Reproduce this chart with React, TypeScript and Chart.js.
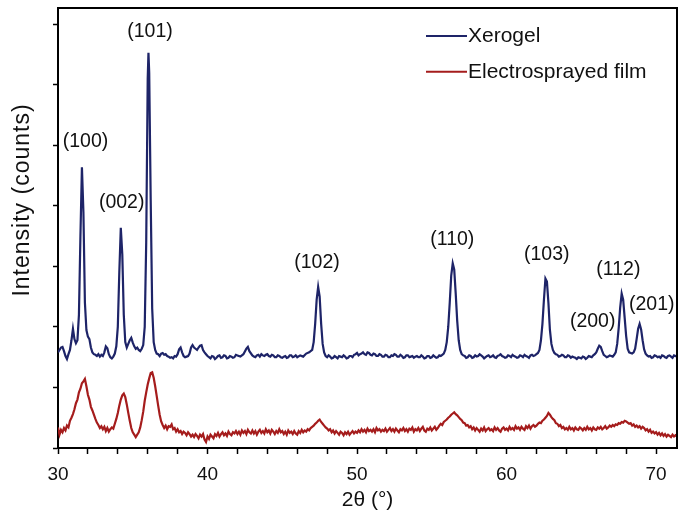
import React, { useEffect, useRef } from "react";
import { Chart, registerables } from "chart.js";

Chart.register(...registerables);

// ---------- data ----------
const seriesNames = ["Xerogel", "Electrosprayed film"];

// Xerogel pattern: [2θ (°), intensity (a.u.)]
const xerogelPattern: [number, number][] = [
  [30.0, 1.58], [30.1, 1.62], [30.2, 1.66], [30.3, 1.67], [30.4, 1.60], [30.5, 1.52], [30.6, 1.47], [30.7, 1.55],
  [30.8, 1.62], [30.9, 1.78], [31.0, 1.97], [31.1, 1.80], [31.2, 1.73], [31.3, 1.78], [31.4, 2.2], [31.5, 3.5],
  [31.6, 4.64], [31.7, 3.9], [31.8, 2.4], [31.9, 1.95], [32.0, 1.84], [32.1, 1.80], [32.2, 1.66], [32.3, 1.58],
  [32.4, 1.55], [32.5, 1.54], [32.6, 1.52], [32.7, 1.55], [32.8, 1.51], [32.9, 1.54], [33.0, 1.52], [33.1, 1.58],
  [33.2, 1.68], [33.3, 1.65], [33.4, 1.55], [33.5, 1.50], [33.6, 1.48], [33.7, 1.51], [33.8, 1.56], [33.9, 1.68],
  [34.0, 2.0], [34.1, 2.9], [34.2, 3.64], [34.3, 3.2], [34.4, 2.2], [34.5, 1.75], [34.6, 1.66], [34.7, 1.72],
  [34.8, 1.78], [34.9, 1.82], [35.0, 1.74], [35.1, 1.68], [35.2, 1.64], [35.3, 1.66], [35.4, 1.62], [35.5, 1.60],
  [35.6, 1.64], [35.7, 1.70], [35.8, 2.0], [35.9, 3.4], [36.0, 6.1], [36.05, 6.53], [36.1, 6.2], [36.2, 4.1],
  [36.3, 2.3], [36.4, 1.75], [36.5, 1.62], [36.6, 1.56], [36.7, 1.55], [36.8, 1.52], [36.9, 1.56], [37.0, 1.57],
  [37.1, 1.54], [37.2, 1.55], [37.3, 1.52], [37.4, 1.51], [37.5, 1.49], [37.6, 1.50], [37.7, 1.48], [37.8, 1.52],
  [37.9, 1.51], [38.0, 1.55], [38.1, 1.63], [38.2, 1.66], [38.3, 1.58], [38.4, 1.52], [38.5, 1.50], [38.6, 1.51],
  [38.7, 1.52], [38.8, 1.56], [38.9, 1.66], [39.0, 1.70], [39.1, 1.66], [39.2, 1.64], [39.3, 1.62], [39.4, 1.66],
  [39.5, 1.69], [39.6, 1.70], [39.7, 1.62], [39.8, 1.58], [39.9, 1.55], [40.0, 1.52], [40.1, 1.50], [40.2, 1.48],
  [40.3, 1.52], [40.4, 1.51], [40.5, 1.47], [40.6, 1.49], [40.7, 1.52], [40.8, 1.53], [40.9, 1.49], [41.0, 1.50],
  [41.1, 1.53], [41.2, 1.52], [41.3, 1.48], [41.4, 1.49], [41.5, 1.52], [41.6, 1.51], [41.7, 1.49], [41.8, 1.50],
  [41.9, 1.54], [42.0, 1.53], [42.2, 1.51], [42.4, 1.55], [42.6, 1.64], [42.7, 1.67], [42.8, 1.60], [43.0, 1.53],
  [43.1, 1.51], [43.2, 1.50], [43.3, 1.53], [43.4, 1.54], [43.5, 1.51], [43.6, 1.55], [43.7, 1.53], [43.8, 1.52],
  [43.9, 1.54], [44.0, 1.55], [44.1, 1.52], [44.2, 1.51], [44.3, 1.54], [44.4, 1.53], [44.5, 1.50], [44.6, 1.50],
  [44.7, 1.53], [44.8, 1.52], [44.9, 1.50], [45.0, 1.49], [45.1, 1.51], [45.2, 1.52], [45.3, 1.49], [45.4, 1.50],
  [45.5, 1.53], [45.6, 1.53], [45.7, 1.50], [45.8, 1.51], [45.9, 1.53], [46.0, 1.50], [46.2, 1.53], [46.4, 1.51],
  [46.6, 1.56], [46.8, 1.58], [47.0, 1.62], [47.1, 1.75], [47.2, 2.05], [47.3, 2.45], [47.4, 2.66], [47.5, 2.5],
  [47.6, 2.05], [47.7, 1.72], [47.8, 1.58], [47.9, 1.52], [48.0, 1.50], [48.1, 1.53], [48.2, 1.51], [48.3, 1.48],
  [48.4, 1.49], [48.5, 1.52], [48.6, 1.50], [48.7, 1.48], [48.8, 1.52], [48.9, 1.51], [49.0, 1.50], [49.1, 1.53],
  [49.2, 1.51], [49.3, 1.48], [49.4, 1.49], [49.5, 1.52], [49.6, 1.52], [49.7, 1.50], [49.8, 1.54], [49.9, 1.55],
  [50.0, 1.57], [50.1, 1.53], [50.2, 1.55], [50.3, 1.56], [50.4, 1.58], [50.5, 1.55], [50.6, 1.54], [50.7, 1.58],
  [50.8, 1.57], [50.9, 1.54], [51.0, 1.53], [51.1, 1.56], [51.2, 1.55], [51.3, 1.52], [51.4, 1.52], [51.5, 1.55],
  [51.6, 1.54], [51.7, 1.51], [51.8, 1.51], [51.9, 1.54], [52.0, 1.53], [52.1, 1.50], [52.2, 1.50], [52.3, 1.53],
  [52.4, 1.52], [52.5, 1.55], [52.6, 1.54], [52.7, 1.51], [52.8, 1.51], [52.9, 1.54], [53.0, 1.52], [53.1, 1.49],
  [53.2, 1.50], [53.3, 1.53], [53.4, 1.53], [53.5, 1.50], [53.6, 1.51], [53.7, 1.52], [53.8, 1.49], [53.9, 1.51],
  [54.0, 1.52], [54.1, 1.50], [54.2, 1.50], [54.3, 1.53], [54.4, 1.51], [54.5, 1.48], [54.6, 1.49], [54.7, 1.52],
  [54.8, 1.52], [54.9, 1.49], [55.0, 1.50], [55.1, 1.53], [55.2, 1.51], [55.3, 1.49], [55.4, 1.50], [55.5, 1.53],
  [55.6, 1.52], [55.7, 1.54], [55.8, 1.56], [55.9, 1.62], [56.0, 1.75], [56.1, 2.0], [56.2, 2.4], [56.3, 2.85],
  [56.4, 3.05], [56.5, 2.95], [56.6, 2.55], [56.7, 2.1], [56.8, 1.78], [56.9, 1.62], [57.0, 1.55], [57.1, 1.53],
  [57.2, 1.52], [57.3, 1.49], [57.4, 1.50], [57.5, 1.53], [57.6, 1.52], [57.7, 1.49], [57.8, 1.50], [57.9, 1.53],
  [58.0, 1.51], [58.1, 1.52], [58.2, 1.55], [58.3, 1.53], [58.4, 1.51], [58.5, 1.48], [58.6, 1.50], [58.7, 1.52],
  [58.8, 1.53], [58.9, 1.50], [59.0, 1.51], [59.1, 1.53], [59.2, 1.50], [59.3, 1.49], [59.4, 1.52], [59.5, 1.53],
  [59.6, 1.55], [59.7, 1.52], [59.8, 1.51], [59.9, 1.49], [60.0, 1.50], [60.1, 1.53], [60.2, 1.52], [60.3, 1.50],
  [60.4, 1.54], [60.5, 1.52], [60.6, 1.51], [60.7, 1.49], [60.8, 1.50], [60.9, 1.53], [61.0, 1.52], [61.1, 1.50],
  [61.2, 1.54], [61.3, 1.52], [61.4, 1.51], [61.5, 1.49], [61.6, 1.53], [61.7, 1.54], [61.8, 1.52], [61.9, 1.53],
  [62.0, 1.55], [62.1, 1.57], [62.2, 1.62], [62.3, 1.78], [62.4, 2.05], [62.5, 2.45], [62.6, 2.8], [62.7, 2.75],
  [62.8, 2.4], [62.9, 1.95], [63.0, 1.72], [63.1, 1.62], [63.2, 1.57], [63.3, 1.55], [63.4, 1.54], [63.5, 1.51],
  [63.6, 1.52], [63.7, 1.54], [63.8, 1.53], [63.9, 1.50], [64.0, 1.50], [64.1, 1.53], [64.2, 1.52], [64.3, 1.49],
  [64.4, 1.51], [64.5, 1.50], [64.6, 1.49], [64.7, 1.47], [64.8, 1.50], [64.9, 1.49], [65.0, 1.48], [65.1, 1.51],
  [65.2, 1.50], [65.3, 1.47], [65.4, 1.49], [65.5, 1.52], [65.6, 1.51], [65.7, 1.50], [65.8, 1.53], [65.9, 1.55],
  [66.0, 1.58], [66.1, 1.64], [66.2, 1.69], [66.3, 1.67], [66.4, 1.60], [66.5, 1.54], [66.6, 1.52], [66.7, 1.50],
  [66.8, 1.51], [66.9, 1.53], [67.0, 1.52], [67.1, 1.51], [67.2, 1.54], [67.3, 1.58], [67.4, 1.72], [67.5, 1.98],
  [67.6, 2.32], [67.7, 2.55], [67.8, 2.45], [67.9, 2.15], [68.0, 1.85], [68.1, 1.64], [68.2, 1.58], [68.3, 1.57],
  [68.4, 1.56], [68.5, 1.58], [68.6, 1.64], [68.7, 1.80], [68.8, 1.97], [68.9, 2.05], [69.0, 1.96], [69.1, 1.78],
  [69.2, 1.63], [69.3, 1.56], [69.4, 1.53], [69.5, 1.51], [69.6, 1.52], [69.7, 1.49], [69.8, 1.50], [69.9, 1.53],
  [70.0, 1.52], [70.1, 1.50], [70.2, 1.51], [70.3, 1.49], [70.4, 1.53], [70.5, 1.52], [70.6, 1.50], [70.7, 1.49],
  [70.8, 1.52], [70.9, 1.53], [71.0, 1.51], [71.1, 1.49], [71.2, 1.53], [71.3, 1.52], [71.4, 1.51],
];

// Electrosprayed film pattern: [2θ (°), intensity (a.u.)]
const filmPattern: [number, number][] = [
  [30.0, 0.34], [30.1, 0.22], [30.2, 0.30], [30.3, 0.26], [30.4, 0.33], [30.5, 0.29], [30.6, 0.37], [30.7, 0.34],
  [30.8, 0.45], [30.9, 0.50], [31.0, 0.56], [31.1, 0.64], [31.2, 0.74], [31.3, 0.80], [31.4, 0.92], [31.5, 0.98],
  [31.6, 1.07], [31.7, 1.10], [31.8, 1.14], [31.9, 1.02], [32.0, 0.88], [32.1, 0.80], [32.2, 0.68], [32.3, 0.62],
  [32.4, 0.55], [32.5, 0.48], [32.6, 0.42], [32.7, 0.38], [32.8, 0.33], [32.9, 0.36], [33.0, 0.31], [33.1, 0.35],
  [33.2, 0.28], [33.3, 0.33], [33.4, 0.27], [33.5, 0.31], [33.6, 0.34], [33.7, 0.32], [33.8, 0.40], [33.9, 0.48],
  [34.0, 0.58], [34.1, 0.70], [34.2, 0.80], [34.3, 0.87], [34.4, 0.90], [34.5, 0.84], [34.6, 0.72], [34.7, 0.58],
  [34.8, 0.45], [34.9, 0.33], [35.0, 0.26], [35.1, 0.22], [35.2, 0.18], [35.3, 0.22], [35.4, 0.26], [35.5, 0.34],
  [35.6, 0.46], [35.7, 0.60], [35.8, 0.78], [35.9, 0.92], [36.0, 1.05], [36.1, 1.15], [36.2, 1.24], [36.3, 1.25],
  [36.4, 1.16], [36.5, 1.02], [36.6, 0.86], [36.7, 0.70], [36.8, 0.55], [36.9, 0.44],
  [37.0, 0.38], [37.1, 0.33], [37.2, 0.37], [37.3, 0.31], [37.4, 0.36], [37.5, 0.35], [37.6, 0.39], [37.7, 0.31], [37.8, 0.33], [37.9, 0.27],
  [38.0, 0.31], [38.1, 0.26], [38.2, 0.28], [38.3, 0.23], [38.4, 0.27], [38.5, 0.25], [38.6, 0.21], [38.7, 0.26], [38.8, 0.23], [38.9, 0.19],
  [39.0, 0.22], [39.1, 0.18], [39.2, 0.23], [39.3, 0.20], [39.4, 0.16], [39.5, 0.22], [39.6, 0.19], [39.7, 0.23], [39.8, 0.14], [39.9, 0.10],
  [40.0, 0.19], [40.1, 0.15], [40.2, 0.22], [40.3, 0.19], [40.4, 0.16], [40.5, 0.23], [40.6, 0.20], [40.7, 0.25], [40.8, 0.19], [40.9, 0.23],
  [41.0, 0.26], [41.1, 0.21], [41.2, 0.24], [41.3, 0.20], [41.4, 0.27], [41.5, 0.23], [41.6, 0.21], [41.7, 0.26], [41.8, 0.24], [41.9, 0.28],
  [42.0, 0.23], [42.1, 0.27], [42.2, 0.22], [42.3, 0.29], [42.4, 0.25], [42.5, 0.28], [42.6, 0.23], [42.7, 0.30], [42.8, 0.26], [42.9, 0.24],
  [43.0, 0.29], [43.1, 0.24], [43.2, 0.28], [43.3, 0.22], [43.4, 0.27], [43.5, 0.30], [43.6, 0.25], [43.7, 0.28], [43.8, 0.24], [43.9, 0.31],
  [44.0, 0.26], [44.1, 0.29], [44.2, 0.24], [44.3, 0.30], [44.4, 0.27], [44.5, 0.23], [44.6, 0.28], [44.7, 0.25], [44.8, 0.31], [44.9, 0.26],
  [45.0, 0.28], [45.1, 0.23], [45.2, 0.27], [45.3, 0.22], [45.4, 0.29], [45.5, 0.25], [45.6, 0.27], [45.7, 0.23], [45.8, 0.28], [45.9, 0.24],
  [46.0, 0.22], [46.1, 0.28], [46.2, 0.25], [46.3, 0.30], [46.4, 0.26], [46.5, 0.29], [46.6, 0.27], [46.7, 0.31], [46.8, 0.29], [46.9, 0.33],
  [47.0, 0.35], [47.1, 0.37], [47.2, 0.40], [47.3, 0.42], [47.4, 0.45], [47.5, 0.47], [47.6, 0.43], [47.7, 0.40], [47.8, 0.37], [47.9, 0.34],
  [48.0, 0.32], [48.1, 0.29], [48.2, 0.31], [48.3, 0.26], [48.4, 0.29], [48.5, 0.24], [48.6, 0.28], [48.7, 0.25], [48.8, 0.22], [48.9, 0.27],
  [49.0, 0.25], [49.1, 0.21], [49.2, 0.26], [49.3, 0.23], [49.4, 0.27], [49.5, 0.22], [49.6, 0.25], [49.7, 0.28], [49.8, 0.24], [49.9, 0.27],
  [50.0, 0.25], [50.1, 0.29], [50.2, 0.26], [50.3, 0.31], [50.4, 0.27], [50.5, 0.30], [50.6, 0.26], [50.7, 0.32], [50.8, 0.28], [50.9, 0.30],
  [51.0, 0.27], [51.1, 0.31], [51.2, 0.26], [51.3, 0.33], [51.4, 0.29], [51.5, 0.31], [51.6, 0.27], [51.7, 0.30], [51.8, 0.28], [51.9, 0.32],
  [52.0, 0.27], [52.1, 0.30], [52.2, 0.33], [52.3, 0.28], [52.4, 0.31], [52.5, 0.27], [52.6, 0.32], [52.7, 0.29], [52.8, 0.26], [52.9, 0.31],
  [53.0, 0.29], [53.1, 0.33], [53.2, 0.28], [53.3, 0.31], [53.4, 0.27], [53.5, 0.32], [53.6, 0.30], [53.7, 0.34], [53.8, 0.27], [53.9, 0.31],
  [54.0, 0.29], [54.1, 0.33], [54.2, 0.28], [54.3, 0.32], [54.4, 0.35], [54.5, 0.29], [54.6, 0.27], [54.7, 0.32], [54.8, 0.30], [54.9, 0.34],
  [55.0, 0.29], [55.1, 0.32], [55.2, 0.35], [55.3, 0.30], [55.4, 0.33], [55.5, 0.37], [55.6, 0.40], [55.7, 0.38], [55.8, 0.43], [55.9, 0.45],
  [56.0, 0.47], [56.1, 0.50], [56.2, 0.52], [56.3, 0.55], [56.4, 0.57], [56.5, 0.59], [56.6, 0.56], [56.7, 0.54], [56.8, 0.51], [56.9, 0.48],
  [57.0, 0.46], [57.1, 0.42], [57.2, 0.41], [57.3, 0.37], [57.4, 0.38], [57.5, 0.34], [57.6, 0.36], [57.7, 0.31], [57.8, 0.34], [57.9, 0.29],
  [58.0, 0.33], [58.1, 0.30], [58.2, 0.27], [58.3, 0.32], [58.4, 0.29], [58.5, 0.34], [58.6, 0.28], [58.7, 0.31], [58.8, 0.33], [58.9, 0.29],
  [59.0, 0.31], [59.1, 0.28], [59.2, 0.34], [59.3, 0.30], [59.4, 0.33], [59.5, 0.29], [59.6, 0.27], [59.7, 0.32], [59.8, 0.34], [59.9, 0.30],
  [60.0, 0.32], [60.1, 0.29], [60.2, 0.35], [60.3, 0.31], [60.4, 0.33], [60.5, 0.30], [60.6, 0.36], [60.7, 0.32], [60.8, 0.34], [60.9, 0.30],
  [61.0, 0.35], [61.1, 0.32], [61.2, 0.30], [61.3, 0.36], [61.4, 0.33], [61.5, 0.37], [61.6, 0.32], [61.7, 0.36], [61.8, 0.38], [61.9, 0.35],
  [62.0, 0.37], [62.1, 0.40], [62.2, 0.42], [62.3, 0.41], [62.4, 0.45], [62.5, 0.47], [62.6, 0.50], [62.7, 0.53], [62.8, 0.58], [62.9, 0.55],
  [63.0, 0.51], [63.1, 0.48], [63.2, 0.46], [63.3, 0.41], [63.4, 0.40], [63.5, 0.36], [63.6, 0.38], [63.7, 0.33], [63.8, 0.35], [63.9, 0.31],
  [64.0, 0.33], [64.1, 0.30], [64.2, 0.35], [64.3, 0.31], [64.4, 0.33], [64.5, 0.29], [64.6, 0.34], [64.7, 0.31], [64.8, 0.30], [64.9, 0.34],
  [65.0, 0.32], [65.1, 0.29], [65.2, 0.33], [65.3, 0.30], [65.4, 0.35], [65.5, 0.31], [65.6, 0.33], [65.7, 0.29], [65.8, 0.34], [65.9, 0.31],
  [66.0, 0.30], [66.1, 0.34], [66.2, 0.32], [66.3, 0.35], [66.4, 0.31], [66.5, 0.33], [66.6, 0.36], [66.7, 0.32], [66.8, 0.34], [66.9, 0.37],
  [67.0, 0.35], [67.1, 0.38], [67.2, 0.36], [67.3, 0.39], [67.4, 0.38], [67.5, 0.41], [67.6, 0.40], [67.7, 0.43], [67.8, 0.42], [67.9, 0.45],
  [68.0, 0.44], [68.1, 0.42], [68.2, 0.40], [68.3, 0.41], [68.4, 0.37], [68.5, 0.39], [68.6, 0.35], [68.7, 0.37], [68.8, 0.34], [68.9, 0.36],
  [69.0, 0.32], [69.1, 0.35], [69.2, 0.33], [69.3, 0.29], [69.4, 0.31], [69.5, 0.27], [69.6, 0.30], [69.7, 0.25], [69.8, 0.27], [69.9, 0.24],
  [70.0, 0.26], [70.1, 0.22], [70.2, 0.25], [70.3, 0.21], [70.4, 0.24], [70.5, 0.20], [70.6, 0.23], [70.7, 0.19], [70.8, 0.22], [70.9, 0.20],
  [71.0, 0.18], [71.1, 0.22], [71.2, 0.19], [71.3, 0.21], [71.4, 0.19],
];

// Miller-index annotations: label, 2θ of label centre, intensity of label centre
const peakNames = ["(100)", "(002)", "(101)", "(102)", "(110)", "(103)", "(200)", "(112)", "(201)"];
const peakLabelAngles = [31.84, 34.26, 36.15, 47.32, 56.37, 62.69, 65.76, 67.48, 69.71];
const peakLabelLevels = [5.06, 4.06, 6.88, 3.07, 3.45, 3.2, 2.09, 2.95, 2.37];

const xMin = 30;
const xMax = 71.4;
const yMax = 7.27;
const xTickStep = 2;
const xLabelEvery = 10;

// ---------- styles ----------
const FONT = '"Liberation Sans", Arial, Helvetica, sans-serif';
const TEXT = "#111111";
const colors = ["#1e2468", "#a51c1c"];

const framePlugin = {
  id: "frame",
  afterDraw(chart: any) {
    const { ctx, chartArea: a } = chart;
    ctx.save();
    ctx.strokeStyle = "#000";
    ctx.lineWidth = 2;
    ctx.beginPath();
    ctx.moveTo(a.left, a.top);
    ctx.lineTo(a.right, a.top);
    ctx.lineTo(a.right, a.bottom);
    ctx.stroke();
    ctx.restore();
  },
};

const peakLabelPlugin = {
  id: "peakLabels",
  afterDatasetsDraw(chart: any) {
    const { ctx } = chart;
    const xs = chart.scales.x;
    const ys = chart.scales.y;
    ctx.save();
    ctx.font = `19.5px ${FONT}`;
    ctx.fillStyle = TEXT;
    ctx.textAlign = "center";
    ctx.textBaseline = "middle";
    peakNames.forEach((name, i) => {
      ctx.fillText(name, xs.getPixelForValue(peakLabelAngles[i]), ys.getPixelForValue(peakLabelLevels[i]));
    });
    ctx.restore();
  },
};

const legendPlugin = {
  id: "xrdLegend",
  afterDraw(chart: any) {
    const { ctx, chartArea: a } = chart;
    ctx.save();
    chart.data.datasets.forEach((ds: any, i: number) => {
      const yy = a.top + 28 + i * 35.7;
      const x0 = a.left + 368;
      ctx.strokeStyle = ds.borderColor;
      ctx.lineWidth = 2;
      ctx.beginPath();
      ctx.moveTo(x0, yy);
      ctx.lineTo(x0 + 41, yy);
      ctx.stroke();
      ctx.font = `21px ${FONT}`;
      ctx.fillStyle = TEXT;
      ctx.textAlign = "left";
      ctx.textBaseline = "middle";
      ctx.fillText(ds.label, x0 + 42, yy + 0.5);
    });
    ctx.restore();
  },
};

const yTitlePlugin = {
  id: "yTitle",
  afterDraw(chart: any) {
    const { ctx, chartArea: a } = chart;
    ctx.save();
    ctx.translate(28.5, a.top + 192);
    ctx.rotate(-Math.PI / 2);
    ctx.font = `23px ${FONT}`;
    try {
      (ctx as any).letterSpacing = "1px";
    } catch (e) {}
    ctx.fillStyle = TEXT;
    ctx.textAlign = "center";
    ctx.textBaseline = "alphabetic";
    ctx.fillText("Intensity (counts)", 0, 0);
    ctx.restore();
  },
};

export default function App() {
  const canvasRef = useRef<HTMLCanvasElement | null>(null);

  useEffect(() => {
    if (!canvasRef.current) return;
    const chart = new Chart(canvasRef.current, {
      type: "line",
      data: {
        datasets: [
          {
            label: seriesNames[0],
            data: xerogelPattern.map(([x, y]) => ({ x, y })),
            borderColor: colors[0],
            borderWidth: 2.2,
            pointRadius: 0,
            tension: 0,
          },
          {
            label: seriesNames[1],
            data: filmPattern.map(([x, y]) => ({ x, y })),
            borderColor: colors[1],
            borderWidth: 2.2,
            pointRadius: 0,
            tension: 0,
          },
        ],
      },
      options: {
        animation: false,
        responsive: true,
        maintainAspectRatio: false,
        layout: { padding: { left: 0, right: 1, top: 8, bottom: 0 } },
        plugins: {
          legend: { display: false },
          tooltip: { enabled: false },
        },
        scales: {
          x: {
            type: "linear",
            min: xMin,
            max: xMax,
            afterBuildTicks: (s: any) => {
              s.ticks = s.ticks.filter((t: any) => Math.abs(t.value / xTickStep - Math.round(t.value / xTickStep)) < 1e-6);
            },
            afterFit: (s: any) => {
              s.height = 65;
            },
            ticks: {
              stepSize: xTickStep,
              includeBounds: false,
              autoSkip: false,
              maxRotation: 0,
              padding: 9,
              color: TEXT,
              font: { family: FONT, size: 19 },
              callback: (v: any) => (Math.round(v) % xLabelEvery === 0 ? String(Math.round(v)) : ""),
            },
            grid: {
              drawOnChartArea: false,
              drawTicks: true,
              tickLength: 6,
              tickColor: "#000",
              tickWidth: 1.5,
            },
            border: { display: true, color: "#000", width: 2 },
            title: {
              display: true,
              text: "2θ (°)",
              color: TEXT,
              font: { family: FONT, size: 21 },
              padding: { top: 0, bottom: 0 },
            },
          },
          y: {
            type: "linear",
            min: 0,
            max: yMax,
            afterBuildTicks: (s: any) => {
              s.ticks = s.ticks.filter((t: any) => Math.abs(t.value - Math.round(t.value)) < 1e-6);
            },
            afterFit: (s: any) => {
              s.width = 58;
            },
            ticks: { stepSize: 1, display: false, includeBounds: false },
            grid: {
              drawOnChartArea: false,
              drawTicks: true,
              tickLength: 5,
              tickColor: "#000",
              tickWidth: 1.5,
            },
            border: { display: true, color: "#000", width: 2 },
          },
        },
      },
      plugins: [framePlugin, peakLabelPlugin, legendPlugin, yTitlePlugin],
    } as any);
    return () => chart.destroy();
  }, []);

  return (
    <div style={{ position: "absolute", left: 0, top: 0, width: 678, height: 513, background: "#fff" }}>
      <canvas ref={canvasRef} />
    </div>
  );
}
